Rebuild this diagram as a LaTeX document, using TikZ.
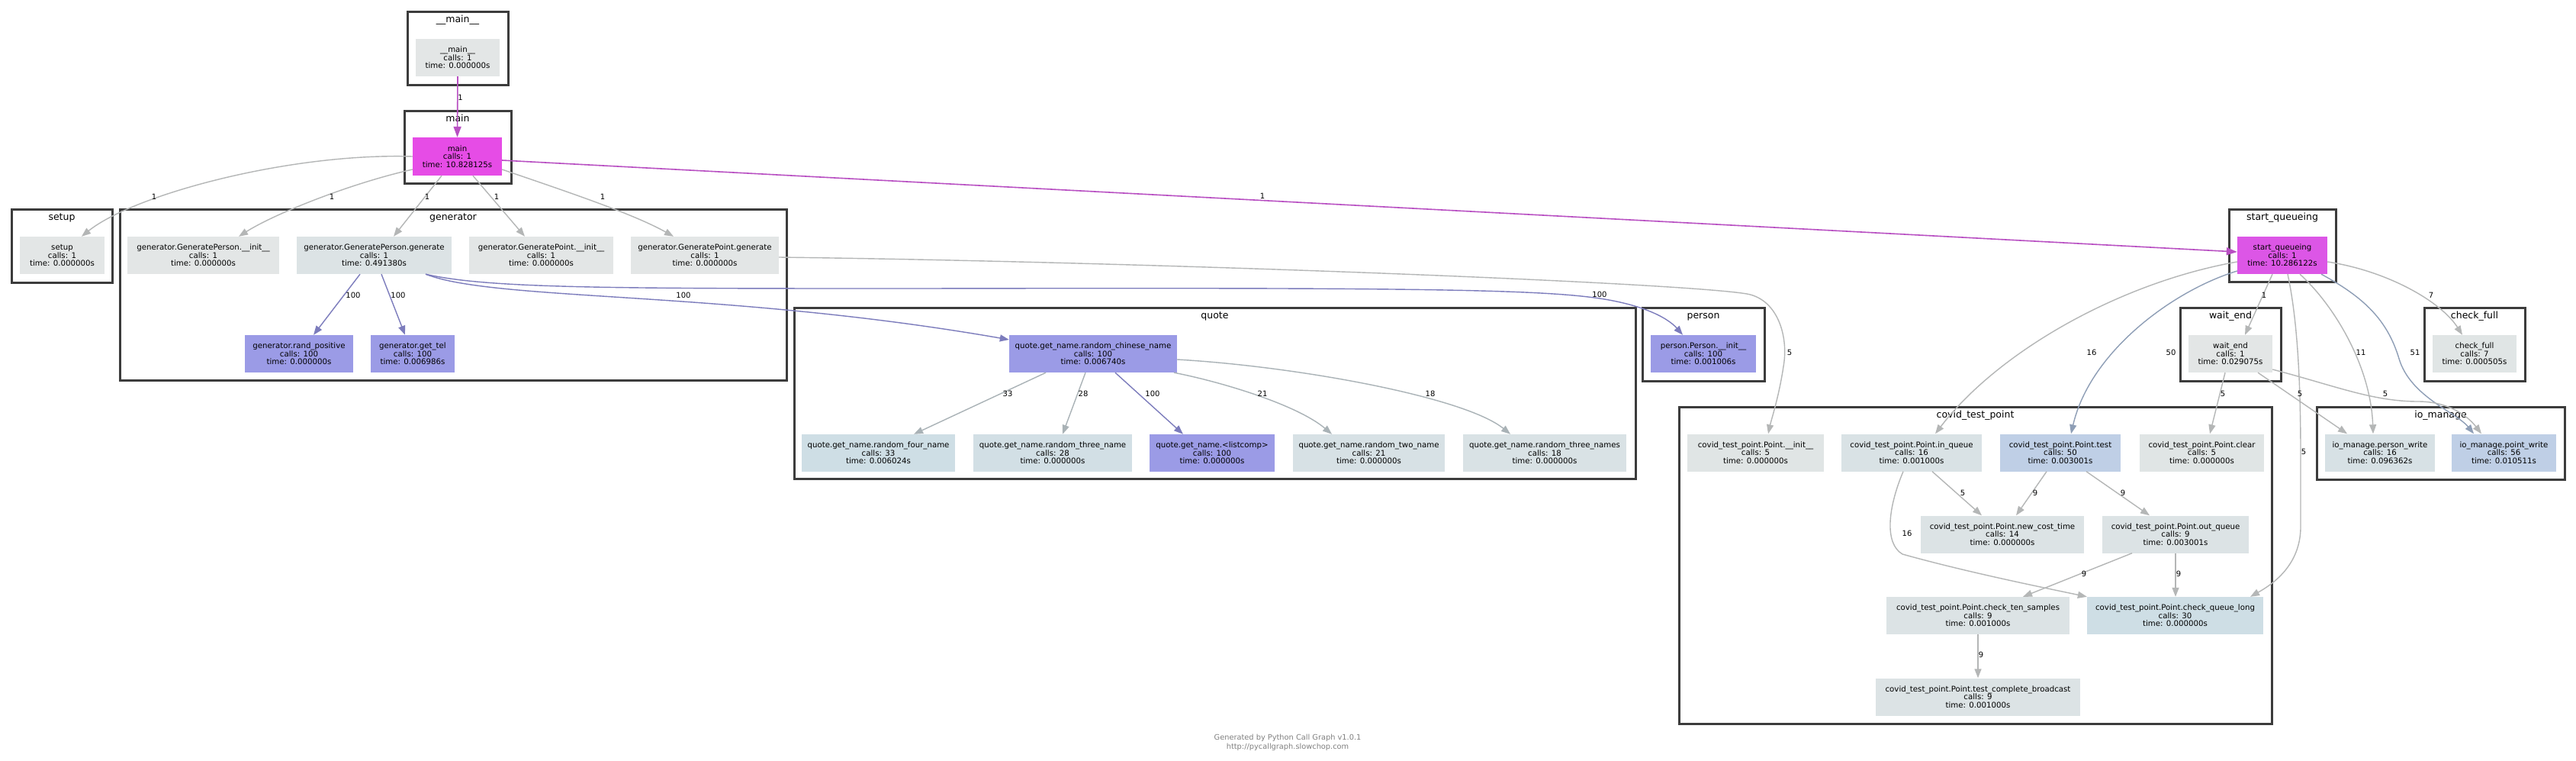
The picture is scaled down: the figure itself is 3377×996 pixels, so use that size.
\documentclass[tikz,border=0pt]{standalone}
\usepackage{fontspec}
\setmainfont{DejaVu Sans}
\usetikzlibrary{arrows.meta}
\definecolor{modline}{HTML}{3C3C3C}
\definecolor{cGrayLine}{HTML}{B4B6B6}
\definecolor{cQuoteLine}{HTML}{A9B2B6}
\definecolor{cPurLine}{HTML}{7C7CBC}
\definecolor{cBlueLine}{HTML}{8E9EB6}
\definecolor{cMagLine}{HTML}{B84FC2}
\definecolor{fGray}{HTML}{E3E6E6}
\definecolor{fGray2}{HTML}{E0E5E5}
\definecolor{fCool}{HTML}{DCE3E5}
\definecolor{fCyan}{HTML}{CEDEE5}
\definecolor{fCyan2}{HTML}{D2DFE5}
\definecolor{fCyan3}{HTML}{D7E1E5}
\definecolor{fCyan4}{HTML}{D9E2E5}
\definecolor{fBlue}{HTML}{BFCFE6}
\definecolor{fPur}{HTML}{9B9BE6}
\definecolor{fMag}{HTML}{E64CE6}
\definecolor{fMag2}{HTML}{DC56E6}
\definecolor{cFoot}{HTML}{808080}

\begin{document}
\begin{tikzpicture}[
    x=1pt, y=-1pt,
    func/.style={rectangle, inner sep=0pt, minimum height=49pt, align=center,
      font=\fontsize{10.2}{10.6}\selectfont},
    module/.style={rectangle, draw=modline, line width=3pt, inner sep=0pt},
    modname/.style={inner sep=0pt, text height=9pt, text depth=3pt,
      font=\fontsize{12.5}{14}\selectfont},
    call/.style={draw=cGrayLine, line width=1.4pt, -{Triangle[length=12pt, width=9pt]}},
    callq/.style={call, draw=cQuoteLine},
    callpur/.style={call, draw=cPurLine},
    callblue/.style={call, draw=cBlueLine},
    callmag/.style={draw=cMagLine, line width=1.6pt, -{Triangle[length=14pt, width=10pt]}},
    lbl/.style={inner sep=0pt, font=\fontsize{10}{12}\selectfont},
  ]

  \useasboundingbox (0,0) rectangle (3377,996);
  \fill[white] (0,0) rectangle (3377,996);

  % ---- modules (graphviz clusters)
  \foreach \m/\cx/\cy/\w/\h/\t in {
      main0/600/63/132/96/{\_\_main\_\_},
      main/600/192.5/140/95/main,
      setup/81/322/132/96/setup,
      generator/594/386/874/224/generator,
      quote/1592.5/515/1103/224/quote,
      person/2233/451/160/96/person,
      startq/2992/321.5/140/95/{start\_queueing},
      waitend/2924/451/132/96/{wait\_end},
      checkfull/3244/451/132/96/{check\_full},
      covid/2589.5/740.5/777/415/{covid\_test\_point},
      io/3199.5/580.5/325/95/{io\_manage}} {
    \node[module, minimum width=\w pt, minimum height=\h pt] (m-\m) at (\cx,\cy) {};
    \node[modname] (t-\m) at ([yshift=-12.5pt]m-\m.north) {\t};
  }

  % ---- functions
  \node[func, fill=fGray, minimum width=110pt] (main0) at (600,75.5) {\_\_main\_\_\\calls: 1\\time: 0.000000s};
  \node[func, fill=fMag, minimum width=117pt, minimum height=50pt] (main) at (599.5,205) {main\\calls: 1\\time: 10.828125s};
  \node[func, fill=fGray, minimum width=111pt] (setup) at (81.5,334.5) {setup\\calls: 1\\time: 0.000000s};
  \node[func, fill=fGray, minimum width=199pt] (gpi) at (266.5,334.5) {generator.GeneratePerson.\_\_init\_\_\\calls: 1\\time: 0.000000s};
  \node[func, fill=fCool, minimum width=203pt] (gpg) at (490.5,334.5) {generator.GeneratePerson.generate\\calls: 1\\time: 0.491380s};
  \node[func, fill=fGray, minimum width=189pt] (gti) at (709.5,334.5) {generator.GeneratePoint.\_\_init\_\_\\calls: 1\\time: 0.000000s};
  \node[func, fill=fGray, minimum width=194pt] (gtg) at (924,334.5) {generator.GeneratePoint.generate\\calls: 1\\time: 0.000000s};
  \node[func, fill=fPur, minimum width=142pt] (randpos) at (392,463.5) {generator.rand\_positive\\calls: 100\\time: 0.000000s};
  \node[func, fill=fPur, minimum width=110pt] (gettel) at (541,463.5) {generator.get\_tel\\calls: 100\\time: 0.006986s};

  \node[func, fill=fPur, minimum width=220pt] (qchinese) at (1433,463.5) {quote.get\_name.random\_chinese\_name\\calls: 100\\time: 0.006740s};
  \node[func, fill=fCyan, minimum width=201pt] (qfour) at (1151.5,593.5) {quote.get\_name.random\_four\_name\\calls: 33\\time: 0.006024s};
  \node[func, fill=fCyan2, minimum width=208pt] (qthree) at (1380,593.5) {quote.get\_name.random\_three\_name\\calls: 28\\time: 0.000000s};
  \node[func, fill=fPur, minimum width=164pt] (qlist) at (1589,593.5) {quote.get\_name.<listcomp>\\calls: 100\\time: 0.000000s};
  \node[func, fill=fCyan3, minimum width=199pt] (qtwo) at (1794.5,593.5) {quote.get\_name.random\_two\_name\\calls: 21\\time: 0.000000s};
  \node[func, fill=fCyan4, minimum width=214pt] (qthrees) at (2025,593.5) {quote.get\_name.random\_three\_names\\calls: 18\\time: 0.000000s};
  \node[func, fill=fPur, minimum width=138pt] (person) at (2233,463.5) {person.Person.\_\_init\_\_\\calls: 100\\time: 0.001006s};

  \node[func, fill=fMag2, minimum width=118pt] (startq) at (2992,334.5) {start\_queueing\\calls: 1\\time: 10.286122s};
  \node[func, fill=fGray, minimum width=110pt] (waitend) at (2924,463.5) {wait\_end\\calls: 1\\time: 0.029075s};
  \node[func, fill=fGray2, minimum width=110pt] (checkfull) at (3244,463.5) {check\_full\\calls: 7\\time: 0.000505s};
  \node[func, fill=fCyan3, minimum width=144pt] (iopw) at (3120,593) {io\_manage.person\_write\\calls: 16\\time: 0.096362s};
  \node[func, fill=fBlue, minimum width=137pt] (iopt) at (3282.5,593) {io\_manage.point\_write\\calls: 56\\time: 0.010511s};

  \node[func, fill=fGray2, minimum width=179pt] (cinit) at (2301.5,593) {covid\_test\_point.Point.\_\_init\_\_\\calls: 5\\time: 0.000000s};
  \node[func, fill=fCyan4, minimum width=184pt] (cinq) at (2506,593) {covid\_test\_point.Point.in\_queue\\calls: 16\\time: 0.001000s};
  \node[func, fill=fBlue, minimum width=158pt] (ctest) at (2701,593) {covid\_test\_point.Point.test\\calls: 50\\time: 0.003001s};
  \node[func, fill=fGray2, minimum width=163pt] (cclear) at (2886.5,593) {covid\_test\_point.Point.clear\\calls: 5\\time: 0.000000s};
  \node[func, fill=fCool, minimum width=214pt] (cnew) at (2625,700) {covid\_test\_point.Point.new\_cost\_time\\calls: 14\\time: 0.000000s};
  \node[func, fill=fCool, minimum width=192pt] (cout) at (2852,700) {covid\_test\_point.Point.out\_queue\\calls: 9\\time: 0.003001s};
  \node[func, fill=fCool, minimum width=240pt] (cten) at (2593,806.5) {covid\_test\_point.Point.check\_ten\_samples\\calls: 9\\time: 0.001000s};
  \node[func, fill=fCyan, minimum width=231pt] (clong) at (2851.5,806.5) {covid\_test\_point.Point.check\_queue\_long\\calls: 30\\time: 0.000000s};
  \node[func, fill=fCool, minimum width=268pt] (cbroad) at (2593,913) {covid\_test\_point.Point.test\_complete\_broadcast\\calls: 9\\time: 0.001000s};

  % ---- calls out of __main__ and main
  \draw[callmag] (main0.south) -- (main.north) node[lbl] at (603.5,128) {1};
  \draw[call] (main.west) .. controls (380,200) and (175,255) .. ([xshift=25.5pt]setup.north) node[lbl] at (202,258) {1};
  \draw[call] ([yshift=-17pt]main.west) .. controls (460,240) and (360,280) .. ([xshift=46.5pt]gpi.north) node[lbl] at (435,258) {1};
  \draw[call] ([xshift=-20.5pt]main.south) -- ([xshift=25.5pt]gpg.north) node[lbl] at (560,258) {1};
  \draw[call] ([xshift=20.5pt]main.south) -- ([xshift=-21.5pt]gti.north) node[lbl] at (651,258) {1};
  \draw[call] ([yshift=-17pt]main.east) .. controls (740,250) and (830,280) .. ([xshift=-41pt]gtg.north) node[lbl] at (790,258) {1};
  \draw[callmag] ([yshift=-5pt]main.east) -- ([yshift=4.5pt]startq.west) node[lbl] at (1655,257) {1};

  % ---- generator
  \draw[callpur] ([xshift=-18.5pt]gpg.south) -- ([xshift=19pt]randpos.north) node[lbl] at (463,387) {100};
  \draw[callpur] ([xshift=9.5pt]gpg.south) -- ([xshift=-10pt]gettel.north) node[lbl] at (522,387) {100};
  \draw[callpur] ([xshift=67.5pt]gpg.south) .. controls (650,395) and (950,380) .. ([yshift=18.5pt]qchinese.west) node[lbl] at (896,387) {100};
  \draw[callpur] ([xshift=67.5pt]gpg.south) .. controls (640,378) and (800,378) .. (1200,378)
    .. controls (1800,377) and (2000,378) .. (2090,390)
    .. controls (2150,398) and (2185,415) .. ([xshift=-27pt]person.north) node[lbl] at (2097,386) {100};
  \draw[call] ([yshift=-2.5pt]gtg.east) .. controls (1500,343) and (2200,370) .. (2290,385)
    .. controls (2330,392) and (2345,440) .. (2338,480)
    .. controls (2332,520) and (2322,550) .. ([xshift=16.5pt]cinit.north) node[lbl] at (2346,462) {5};

  % ---- quote
  \draw[callq] ([xshift=-62pt]qchinese.south) -- ([xshift=46.5pt]qfour.north) node[lbl] at (1321,516) {33};
  \draw[callq] ([xshift=-10pt]qchinese.south) -- ([xshift=13pt]qthree.north) node[lbl] at (1420,516) {28};
  \draw[callpur] ([xshift=29pt]qchinese.south) -- ([xshift=-38pt]qlist.north) node[lbl] at (1511,516) {100};
  \draw[callq] ([xshift=106pt]qchinese.south) .. controls (1600,500) and (1700,530) .. ([xshift=-48.5pt]qtwo.north) node[lbl] at (1655,516) {21};
  \draw[callq] ([yshift=-7.5pt]qchinese.east) .. controls (1700,480) and (1920,520) .. ([xshift=-45pt]qthrees.north) node[lbl] at (1875,516) {18};

  % ---- start_queueing
  \draw[call] ([xshift=-13pt]startq.south) -- ([xshift=19pt]waitend.north) node[lbl] at (2968,387) {1};
  \draw[call] ([yshift=-8.5pt]startq.east) .. controls (3130,355) and (3200,395) .. ([xshift=-16pt]checkfull.north) node[lbl] at (3187,387) {7};
  \draw[call] ([xshift=23pt]startq.south) .. controls (3060,400) and (3108,480) .. ([xshift=-9pt]iopw.north) node[lbl] at (3095,462) {11};
  \draw[callblue] ([xshift=51pt]startq.south) .. controls (3100,390) and (3130,420) .. (3145,470)
    .. controls (3160,520) and (3220,540) .. ([xshift=-39.5pt]iopt.north) node[lbl] at (3166,462) {51};
  \draw[call] ([yshift=-8.5pt]startq.west) .. controls (2780,370) and (2620,460) .. ([xshift=31pt]cinq.north) node[lbl] at (2742,462) {16};
  \draw[callblue] ([yshift=-20.5pt]startq.west) .. controls (2850,380) and (2740,460) .. ([xshift=14pt]ctest.north) node[lbl] at (2846,462) {50};
  \draw[call] ([xshift=7pt]startq.south) .. controls (3012,420) and (3016,500) .. (3016,600) -- (3016,690)
    .. controls (3016,740) and (2980,765) .. ([xshift=98.5pt]clong.north) node[lbl] at (3020,592) {5};

  % ---- wait_end
  \draw[call] ([xshift=-7pt]waitend.south) -- ([xshift=10.5pt]cclear.north) node[lbl] at (2914,516) {5};
  \draw[call] ([xshift=36pt]waitend.south) -- ([xshift=-43pt]iopw.north) node[lbl] at (3015,516) {5};
  \draw[call] ([yshift=-20.5pt]waitend.east) .. controls (3060,505) and (3110,526) .. (3170,526)
    .. controls (3210,526) and (3235,545) .. ([xshift=-29.5pt]iopt.north) node[lbl] at (3127,516) {5};

  % ---- covid_test_point
  \draw[call] ([xshift=27pt]cinq.south) -- ([xshift=-27pt]cnew.north) node[lbl] at (2573,646) {5};
  \draw[call] ([xshift=-18pt]ctest.south) -- ([xshift=18pt]cnew.north) node[lbl] at (2668,646) {9};
  \draw[call] ([xshift=34pt]ctest.south) -- ([xshift=-34pt]cout.north) node[lbl] at (2783,646) {9};
  \draw[call] ([xshift=-11pt]cinq.south) .. controls (2475,665) and (2470,712) .. (2494,726)
    .. controls (2580,750) and (2680,770) .. (clong.north west) node[lbl] at (2500,699) {16};
  \draw[call] ([xshift=-57pt]cout.south) -- ([xshift=59pt]cten.north) node[lbl] at (2732,752) {9};
  \draw[call] (cout.south) -- (cout.south |- clong.north) node[lbl] at (2856,752) {9};
  \draw[call] (cten.south) -- (cbroad.north) node[lbl] at (2597,858) {9};

  % ---- credit line
  \node[align=center, text=cFoot, inner sep=0pt, font=\fontsize{9.8}{12}\selectfont] (credit) at (1688,973)
    {Generated by Python Call Graph v1.0.1\\http://pycallgraph.slowchop.com};

\end{tikzpicture}
\end{document}
